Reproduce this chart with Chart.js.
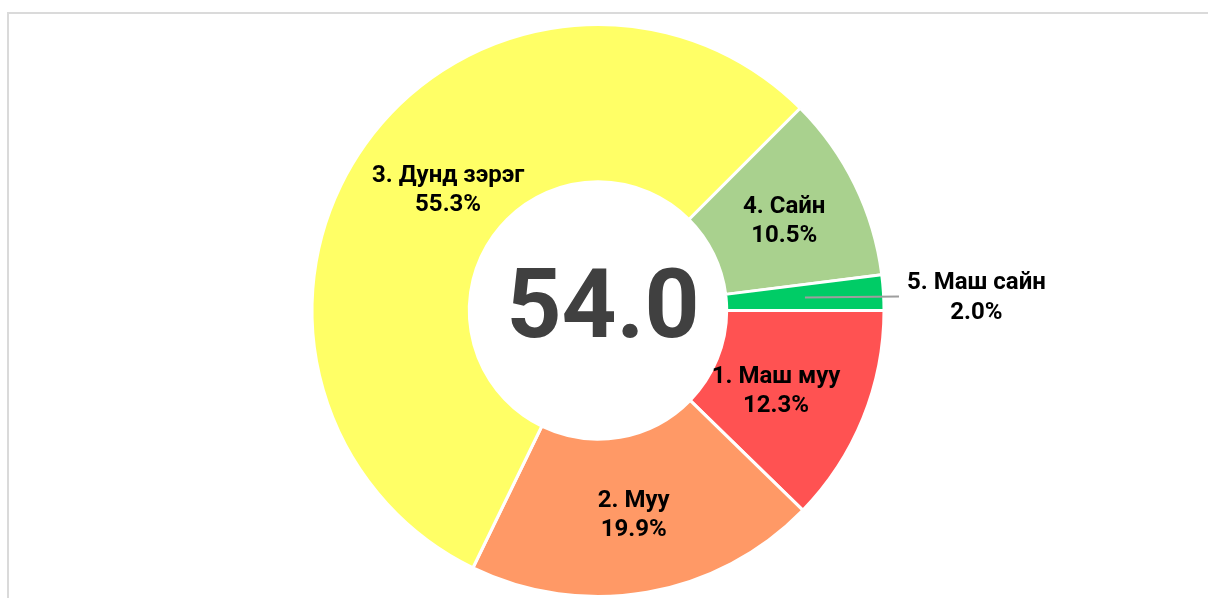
<!DOCTYPE html>
<html>
<head>
<meta charset="utf-8">
<script src="https://cdn.jsdelivr.net/npm/chart.js@4/dist/chart.umd.min.js"></script>
<style>
  html, body { margin: 0; padding: 0; background: #fff; overflow: hidden; }
  #frame { position: absolute; left: 7px; top: 12px; width: 1300px; height: 700px;
           border-left: 2px solid #dadada; border-top: 2px solid #dadada; }
  #wrap { position: absolute; left: 0; top: 0; width: 1208px; height: 598px; }
</style>
</head>
<body>
<div id="frame"></div>
<div id="wrap"><canvas id="c" width="1208" height="598"></canvas></div>
<script>
const categories = ["1. Маш муу", "2. Муу", "3. Дунд зэрэг", "4. Сайн", "5. Маш сайн"];
const shares = [12.3, 19.9, 55.3, 10.5, 2.0];
const colors = ["#FF5252", "#FF9966", "#FFFF66", "#A9D18E", "#00CC66"];
const centerValue = "54.0";
const outsideLabels = [false, false, false, false, true];

const FONT = "Roboto, 'Noto Sans', sans-serif";

const labelPlugin = {
  id: 'sliceLabels',
  afterDatasetsDraw(chart, args, opts) {
    const ctx = chart.ctx;
    const meta = chart.getDatasetMeta(0);
    const shift = opts.shift || [];
    ctx.save();
    ctx.font = "bold 24px " + FONT;
    ctx.fillStyle = "#000";
    meta.data.forEach((arc, i) => {
      const lines = [categories[i], shares[i].toFixed(1) + "%"];
      const pos = arc.tooltipPosition();
      const s = shift[i] || [0, 0];
      if (!outsideLabels[i]) {
        const x = pos.x + s[0], y = pos.y + s[1];
        ctx.textAlign = 'center';
        ctx.textBaseline = 'middle';
        ctx.fillText(lines[0], x, y - 14);
        ctx.fillText(lines[1], x, y + 15);
      } else {
        const p = arc.getProps(['x', 'y', 'outerRadius'], true);
        const endX = p.x + p.outerRadius + 15;
        ctx.strokeStyle = "#9e9e9e";
        ctx.lineWidth = 2;
        ctx.beginPath();
        ctx.moveTo(pos.x, pos.y);
        ctx.lineTo(endX, pos.y - 1);
        ctx.stroke();
        const w = Math.max(...lines.map(l => ctx.measureText(l).width));
        const cx = endX + 8 + w / 2;
        ctx.textAlign = 'center';
        ctx.textBaseline = 'middle';
        ctx.fillText(lines[0], cx, pos.y - 14);
        ctx.fillText(lines[1], cx, pos.y + 16);
      }
    });
    // center value
    const a = meta.data[0];
    ctx.font = "bold 96px " + FONT;
    ctx.fillStyle = "#404040";
    ctx.textAlign = 'center';
    ctx.textBaseline = 'alphabetic';
    ctx.fillText(centerValue, a.x + 5, a.y + 26);
    ctx.restore();
  }
};

new Chart(document.getElementById('c'), {
  type: 'doughnut',
  data: {
    labels: categories,
    datasets: [{
      data: shares,
      backgroundColor: colors,
      borderColor: "#ffffff",
      borderWidth: 3,
      hoverOffset: 0
    }]
  },
  options: {
    responsive: false,
    animation: false,
    rotation: 90,
    cutout: '45%',
    layout: { padding: { top: 23, bottom: 0, left: 0, right: 12 } },
    plugins: {
      legend: { display: false },
      tooltip: { enabled: false },
      sliceLabels: { shift: [[-14, 2], [0, 0], [19, 0], [0, 2], [0, 0]] }
    },
    events: []
  },
  plugins: [labelPlugin]
});
</script>
</body>
</html>
